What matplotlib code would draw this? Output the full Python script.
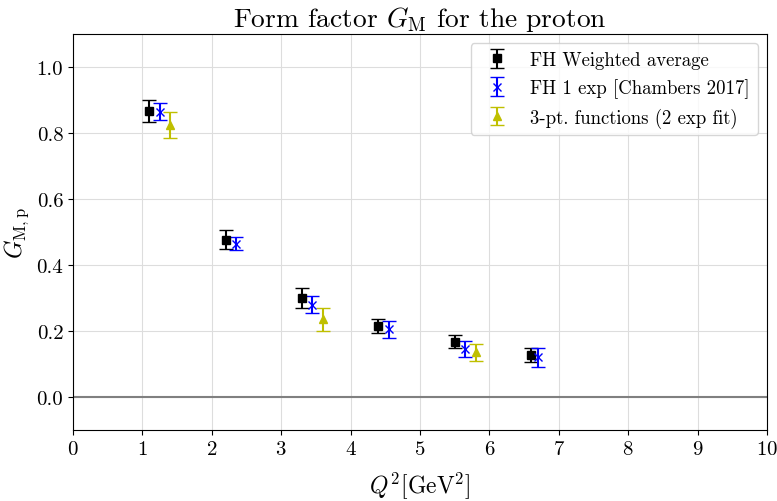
import numpy as np
import matplotlib
matplotlib.use("Agg")
import matplotlib.pyplot as plt

plt.rcParams['font.family'] = 'serif'
plt.rcParams['font.serif'] = ['cmr10']
plt.rcParams['mathtext.fontset'] = 'cm'
plt.rcParams['axes.formatter.use_mathtext'] = True
plt.rcParams['axes.unicode_minus'] = False

# FH weighted average
q2_fh = [1.1, 2.2, 3.3, 4.4, 5.5, 6.6]
gm_fh = [0.867, 0.477, 0.300, 0.215, 0.167, 0.127]
err_fh = [0.033, 0.030, 0.030, 0.020, 0.020, 0.020]

# FH 1 exp [Chambers 2017]
q2_ch = [1.25, 2.35, 3.45, 4.55, 5.65, 6.7]
gm_ch = [0.865, 0.465, 0.280, 0.205, 0.145, 0.120]
err_ch = [0.025, 0.020, 0.025, 0.025, 0.025, 0.030]

# 3-pt. functions (2 exp fit)
q2_3pt = [1.4, 3.6, 5.8]
gm_3pt = [0.825, 0.235, 0.135]
err_3pt = [0.040, 0.035, 0.025]

fig = plt.figure(figsize=(7.77, 5.02), dpi=100)
ax = fig.add_axes([73/777, 1 - 431/502, 694/777, 396/502])

ax.axhline(0, color='gray', lw=1.5, zorder=1)
ax.errorbar(q2_fh, gm_fh, yerr=err_fh, fmt='s', color='k', ms=6, capsize=5,
            label='FH Weighted average', zorder=3)
ax.errorbar(q2_ch, gm_ch, yerr=err_ch, fmt='x', color='b', ms=6, capsize=5,
            label='FH 1 exp [Chambers 2017]', zorder=3)
ax.errorbar(q2_3pt, gm_3pt, yerr=err_3pt, fmt='^', color='y', ms=6, capsize=5,
            label='3-pt. functions (2 exp fit)', zorder=3)

ax.set_xlim(0, 10)
ax.set_ylim(-0.1, 1.1)
ax.set_xticks(np.arange(0, 11, 1))
ax.set_yticks(np.arange(0, 1.01, 0.2))
ax.set_yticklabels([f'{v:.1f}' for v in np.arange(0, 1.01, 0.2)])
ax.tick_params(labelsize=15)
ax.grid(True, color='#dddddd', lw=0.8)
ax.set_axisbelow(True)

ax.set_title(r'Form factor $G_\mathrm{M}$ for the proton', fontsize=19.8)
ax.set_xlabel(r'$Q^2[\mathrm{GeV}^2]$', fontsize=17, labelpad=8)
ax.set_ylabel(r'$G_{\mathrm{M,p}}$', fontsize=17)
ax.legend(loc='upper right', fontsize=13.5, framealpha=0.8)

fig.savefig('out.png', dpi=100)
